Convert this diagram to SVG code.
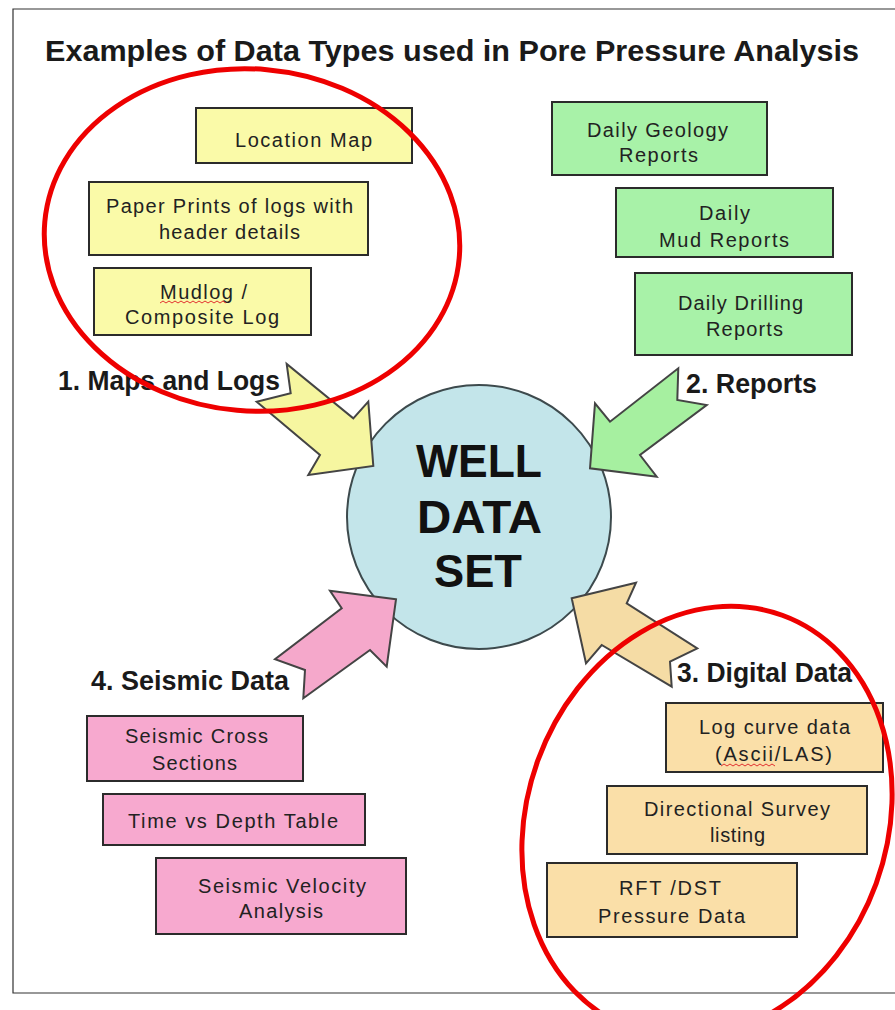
<svg xmlns="http://www.w3.org/2000/svg" width="895" height="1010" viewBox="0 0 895 1010">
<style>
text{font-family:"Liberation Sans",Arial,sans-serif;fill:#222}
.t{font-size:20px}
.lbl{font-size:27px;font-weight:bold;fill:#1a1a1a}
.big{font-size:46px;font-weight:bold;fill:#111}
.box{stroke:#2b2b2b;stroke-width:2}
.y{fill:#fafaa8}.g{fill:#a8f2a8}.p{fill:#f7a9cf}.b{fill:#fadfa8}
.arr{stroke:#444;stroke-width:2;stroke-linejoin:miter}
.red{fill:none;stroke:#ee0000;stroke-width:5}
.sq{fill:none;stroke:#e23030;stroke-width:1}
</style>
<rect width="895" height="1010" fill="#fff"/>
<path d="M895,9 H13 V993 H895" fill="none" stroke="#333" stroke-width="1.2"/>
<text x="45" y="61" font-size="29" font-weight="bold" textLength="814" lengthAdjust="spacingAndGlyphs" style="fill:#1a1a1a">Examples of Data Types used in Pore Pressure Analysis</text>

<g id="center">
<circle cx="479" cy="517" r="132" fill="#c3e5ea" stroke="#3d4a4d" stroke-width="2"/>
<text class="big" x="416" y="477" textLength="126" lengthAdjust="spacingAndGlyphs">WELL</text>
<text class="big" x="417" y="533" textLength="125" lengthAdjust="spacingAndGlyphs">DATA</text>
<text class="big" x="434" y="587" textLength="88" lengthAdjust="spacingAndGlyphs">SET</text>
</g>

<g id="connectors">
<polygon class="arr" fill="#f6f6a0" points="286.7,364 290.7,393.3 256.7,401.7 320,455 308.3,475 373.3,466 368.3,401.7 353.3,418.3"/>
<polygon class="arr" fill="#a6f0a0" points="678.3,368.3 677.3,400 706.7,405 640,455 656.7,476.7 590,468.3 595,403.3 610,421.7"/>
<polygon class="arr" fill="#f5a8cb" points="396,599.3 330,590.7 341.7,608.3 275,659.3 305,670 303.3,698.3 370,650 386.7,666.7"/>
<polygon class="arr" fill="#f5dca5" points="571.7,598.3 636,582.7 626.7,603.3 697.3,648.3 670,661.7 671.7,686.7 601.7,645 586,663.3"/>
</g>

<g id="labels">
<text class="lbl" x="58" y="390" textLength="222" lengthAdjust="spacingAndGlyphs">1. Maps and Logs</text>
<text class="lbl" x="686" y="393" textLength="131" lengthAdjust="spacingAndGlyphs">2. Reports</text>
<text class="lbl" x="91" y="690" textLength="198" lengthAdjust="spacingAndGlyphs">4. Seismic Data</text>
<text class="lbl" x="677" y="682" textLength="175" lengthAdjust="spacingAndGlyphs">3. Digital Data</text>
</g>

<g id="location-map"><rect class="box y" x="196" y="108" width="216" height="55"/>
<text class="t" x="235" y="147" textLength="137">Location Map</text></g>
<g id="paper-prints"><rect class="box y" x="89" y="182" width="279" height="73"/>
<text class="t" x="106" y="213" textLength="247">Paper Prints of logs with</text>
<text class="t" x="159" y="239" textLength="141">header details</text></g>
<g id="mudlog"><rect class="box y" x="94" y="268" width="217" height="67"/>
<text class="t" x="160" y="299" textLength="87">Mudlog /</text>
<text class="t" x="125" y="324" textLength="154">Composite Log</text>
<path class="sq" d="M160,303 l3,-2 l3,2 l3,-2 l3,2 l3,-2 l3,2 l3,-2 l3,2 l3,-2 l3,2 l3,-2 l3,2 l3,-2 l3,2 l3,-2 l3,2 l3,-2 l3,2 l3,-2 l3,2 l3,-2 l3,2"/></g>

<g id="daily-geology"><rect class="box g" x="552" y="102" width="215" height="73"/>
<text class="t" x="587" y="137" textLength="141">Daily Geology</text>
<text class="t" x="619" y="162" textLength="79">Reports</text></g>
<g id="daily-mud"><rect class="box g" x="616" y="188" width="217" height="69"/>
<text class="t" x="699" y="220" textLength="51">Daily</text>
<text class="t" x="659" y="247" textLength="130">Mud Reports</text></g>
<g id="daily-drilling"><rect class="box g" x="635" y="273" width="217" height="82"/>
<text class="t" x="678" y="310" textLength="125">Daily Drilling</text>
<text class="t" x="706" y="336" textLength="77">Reports</text></g>

<g id="seismic-cross"><rect class="box p" x="87" y="716" width="216" height="65"/>
<text class="t" x="125" y="743" textLength="143">Seismic Cross</text>
<text class="t" x="152" y="770" textLength="85">Sections</text></g>
<g id="time-depth"><rect class="box p" x="103" y="794" width="262" height="51"/>
<text class="t" x="128" y="828" textLength="210">Time vs Depth Table</text></g>
<g id="seismic-velocity"><rect class="box p" x="156" y="858" width="250" height="76"/>
<text class="t" x="198" y="893" textLength="168">Seismic Velocity</text>
<text class="t" x="239" y="918" textLength="84">Analysis</text></g>

<g id="log-curve"><rect class="box b" x="666" y="703" width="217" height="69"/>
<text class="t" x="699" y="734" textLength="151">Log curve data</text>
<text class="t" x="715" y="761" textLength="117">(Ascii/LAS)</text>
<path class="sq" d="M721,766 l3,-2 l3,2 l3,-2 l3,2 l3,-2 l3,2 l3,-2 l3,2 l3,-2 l3,2 l3,-2 l3,2 l3,-2 l3,2 l3,-2 l3,2 l3,-2 l3,2"/></g>
<g id="directional-survey"><rect class="box b" x="607" y="786" width="260" height="68"/>
<text class="t" x="644" y="816" textLength="186">Directional Survey</text>
<text class="t" x="710" y="842" textLength="55">listing</text></g>
<g id="rft-dst"><rect class="box b" x="547" y="863" width="250" height="74"/>
<text class="t" x="619" y="895" textLength="102">RFT /DST</text>
<text class="t" x="598" y="923" textLength="147">Pressure Data</text></g>

<g id="highlights">
<ellipse class="red" cx="252" cy="240" rx="208" ry="171" transform="rotate(5 252 240)"/>
<ellipse class="red" cx="707" cy="822" rx="180" ry="220" transform="rotate(20 707 822)"/>
</g>
</svg>
